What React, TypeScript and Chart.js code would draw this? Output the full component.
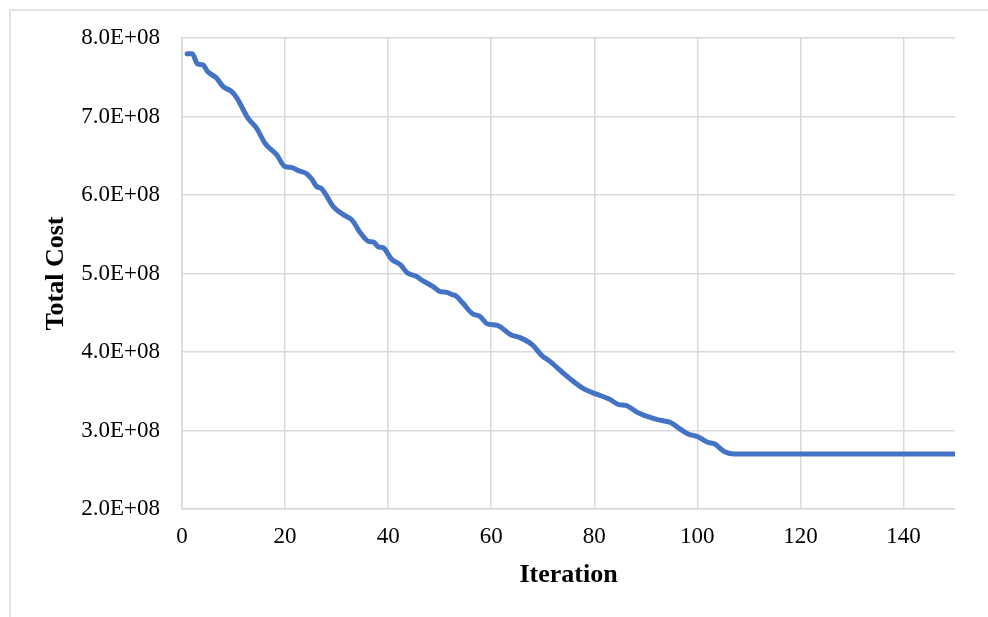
import React, { useEffect, useRef } from "react";
import { Chart, registerables } from "chart.js";
Chart.register(...registerables);

// values (iteration -> total cost)
const iterations = [
  1, 2, 3, 4, 5, 6.7, 8, 9.6, 10.6, 12.8, 14.5, 16.1, 18.4, 20, 21.3, 22.6, 24.2, 25.2,
  26.1, 27.1, 29.4, 31.3, 33, 34.6, 36.2, 37.2, 38.1, 39, 40.7, 42.4, 43.7, 45.6, 46.2,
  48.8, 50.1, 51.4, 52.4, 53, 54.4, 56.3, 57.9, 59.2, 61.2, 63.8, 65.7, 68, 69.9, 71.2,
  75.1, 78, 80.6, 82.9, 84.8, 86.1, 88.4, 91.6, 92.9, 94.9, 96.2, 98.1, 100.1, 102,
  103.3, 105.3, 107.2, 150,
];
const totalCost = [
  7.8, 7.8, 7.67, 7.66, 7.57, 7.49, 7.38, 7.32, 7.24, 6.98, 6.85, 6.66, 6.51, 6.36, 6.35,
  6.31, 6.27, 6.2, 6.11, 6.08, 5.85, 5.75, 5.68, 5.52, 5.41, 5.4, 5.34, 5.33, 5.18, 5.11,
  5.01, 4.96, 4.93, 4.83, 4.77, 4.76, 4.73, 4.72, 4.63, 4.49, 4.45, 4.36, 4.34, 4.22, 4.18,
  4.09, 3.95, 3.89, 3.67, 3.53, 3.46, 3.4, 3.33, 3.32, 3.23, 3.15, 3.13, 3.1, 3.04, 2.96,
  2.92, 2.85, 2.83, 2.73, 2.7, 2.7,
].map((v) => v * 1e8);

const xTitle = "Iteration";
const yTitle = "Total Cost";

const serif = "'Liberation Serif', 'Times New Roman', serif";
const gridColor = "#d9d9d9";

export default function App() {
  const canvasRef = useRef<HTMLCanvasElement | null>(null);
  const chartRef = useRef<Chart | null>(null);

  useEffect(() => {
    const ctx = canvasRef.current?.getContext("2d");
    if (!ctx) return;
    if (chartRef.current) chartRef.current.destroy();

    chartRef.current = new Chart(ctx, {
      type: "line",
      data: {
        datasets: [
          {
            label: yTitle,
            data: iterations.map((x, i) => ({ x, y: totalCost[i] })),
            borderColor: "#4472C4",
            borderWidth: 5,
            pointRadius: 0,
            cubicInterpolationMode: "monotone",
            borderCapStyle: "round",
            borderJoinStyle: "round",
            fill: false,
          },
        ],
      },
      options: {
        animation: false,
        responsive: false,
        maintainAspectRatio: false,
        layout: { padding: { left: 0, top: 38, right: 33, bottom: 0 } },
        plugins: { legend: { display: false }, tooltip: { enabled: false } },
        scales: {
          x: {
            type: "linear",
            min: 0,
            max: 150,
            afterFit: (s: any) => {
              s.height = 108;
            },
            grid: { color: gridColor, lineWidth: 1.5, drawTicks: false },
            border: { color: gridColor, width: 1.5 },
            ticks: {
              stepSize: 20,
              includeBounds: false,
              padding: 14,
              color: "#000",
              font: { family: serif, size: 23 },
            },
            title: {
              display: true,
              text: xTitle,
              color: "#000",
              font: { family: serif, size: 26, weight: "bold" },
              padding: { top: 0, bottom: 26 },
            },
          },
          y: {
            min: 2e8,
            max: 8e8,
            afterFit: (s: any) => {
              s.width = 182;
            },
            grid: { color: gridColor, lineWidth: 1.5, drawTicks: false },
            border: { color: gridColor, width: 1.5 },
            ticks: {
              stepSize: 1e8,
              padding: 22,
              color: "#000",
              font: { family: serif, size: 23 },
              callback: (v: any) => (Number(v) / 1e8).toFixed(1) + "E+08",
            },
            title: {
              display: true,
              text: yTitle,
              color: "#000",
              font: { family: serif, size: 26, weight: "bold" },
              padding: { top: 41, bottom: 0 },
            },
          },
        },
      },
    });

    return () => {
      if (chartRef.current) {
        chartRef.current.destroy();
        chartRef.current = null;
      }
    };
  }, []);

  return (
    <div style={{ position: "absolute", left: 0, top: 0, width: 988, height: 617, background: "#fff", overflow: "hidden" }}>
      <div
        style={{
          position: "absolute",
          left: 9,
          top: 9,
          width: 1000,
          height: 700,
          borderTop: "2px solid #e3e3e3",
          borderLeft: "2px solid #e3e3e3",
        }}
      />
      <canvas ref={canvasRef} width={988} height={617} style={{ position: "absolute", left: 0, top: 0 }} />
    </div>
  );
}
